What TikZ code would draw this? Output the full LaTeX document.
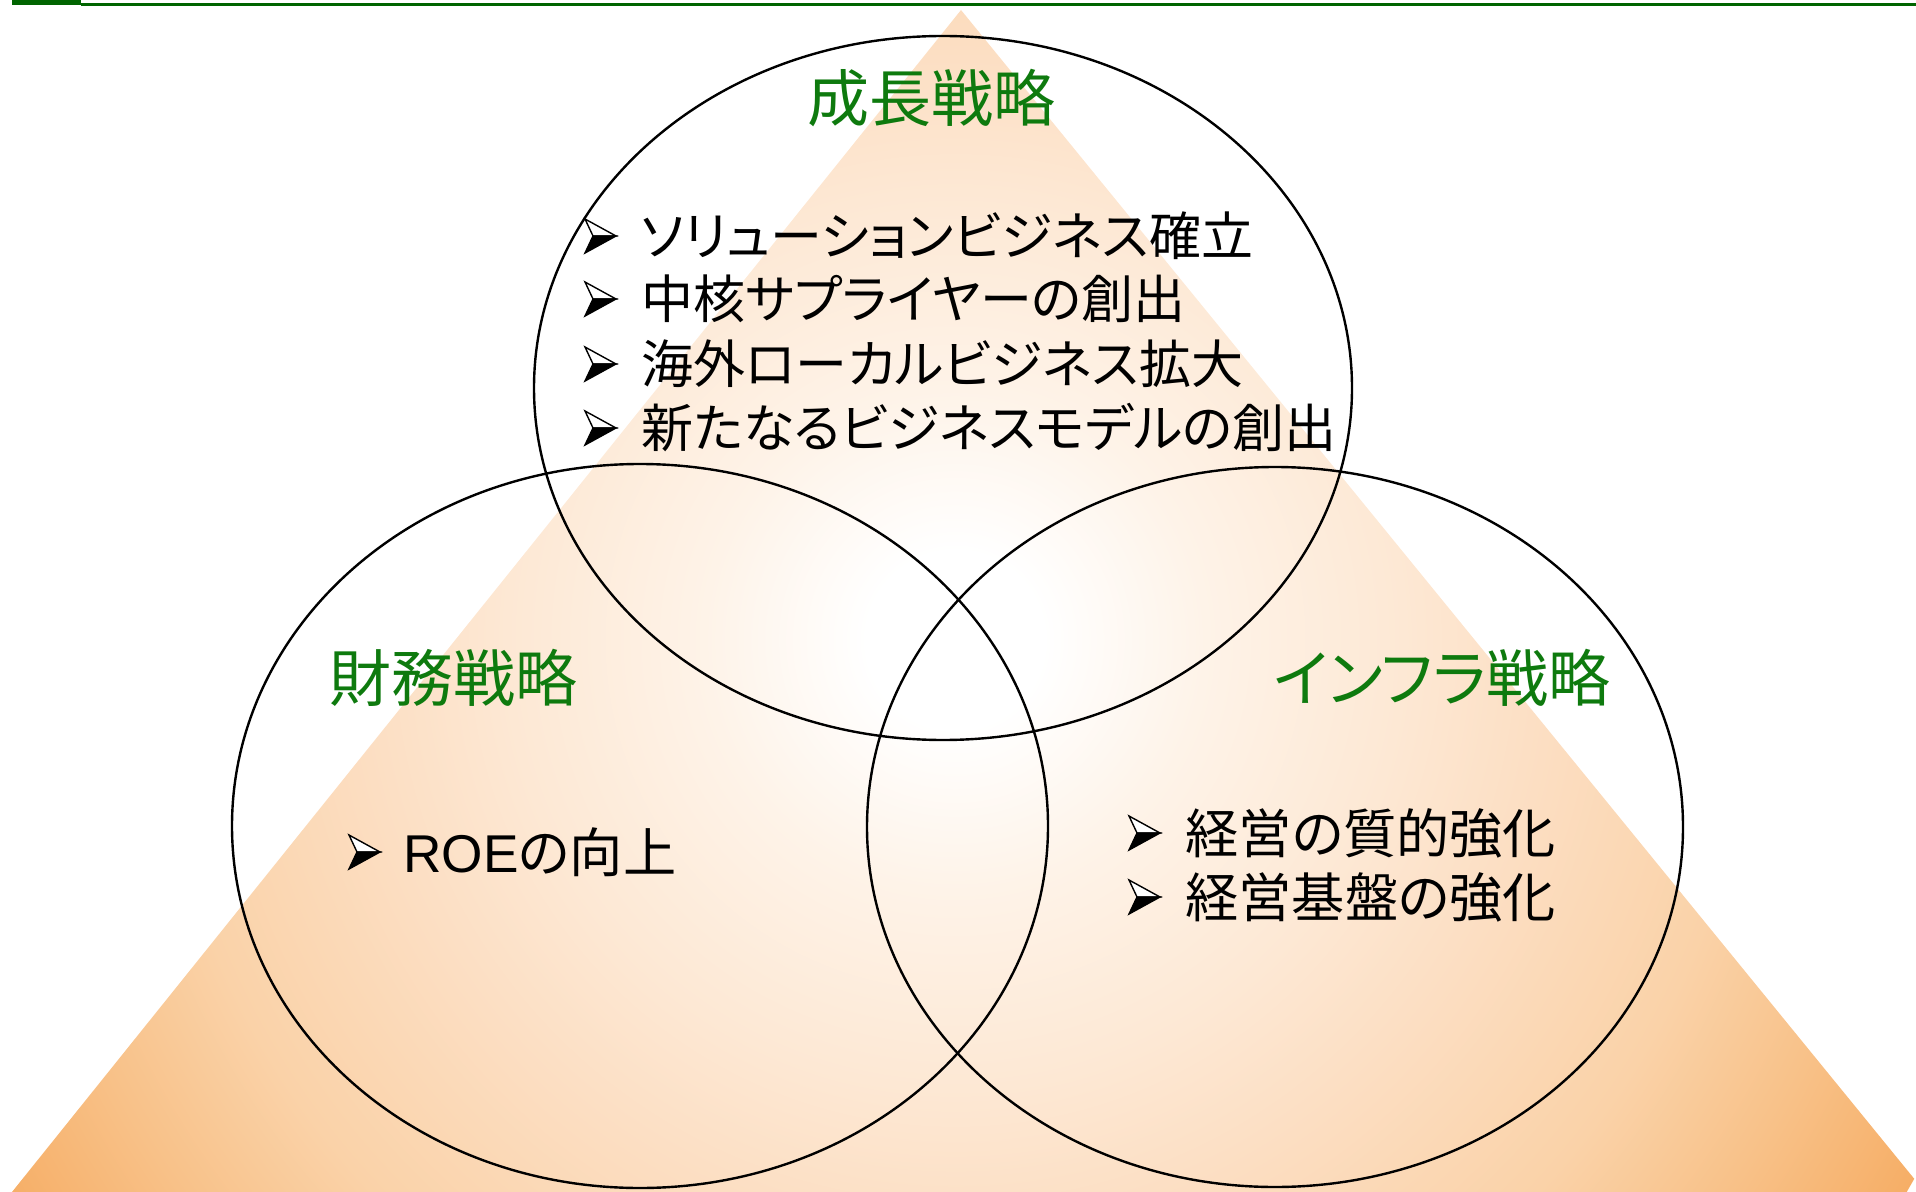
\documentclass[tikz,border=0pt]{standalone}
\usepackage{fontspec}
\newfontfamily\jpfont[RawFeature=+palt]{Noto Sans CJK JP}
\newfontfamily\latinfont{Liberation Sans}
\definecolor{barGreen}{HTML}{006400}
\definecolor{titleGreen}{HTML}{0E7A0E}
\definecolor{pA}{HTML}{FEF3E8}
\definecolor{pB}{HTML}{FDE8D4}
\definecolor{pC}{HTML}{FCDEC2}
\definecolor{pD}{HTML}{FAD2A8}
\definecolor{pE}{HTML}{F8C188}
\definecolor{pF}{HTML}{F6AE66}
\pgfdeclareradialshading{peach}{\pgfpoint{0bp}{0bp}}{color(0bp)=(white); color(2bp)=(white); color(5.7bp)=(pA); color(10.2bp)=(pB); color(13.6bp)=(pC); color(18.2bp)=(pD); color(21.6bp)=(pE); color(25bp)=(pF); color(50bp)=(pF)}
\tikzset{
  ring/.style={draw=black, line width=1.2pt},
  titletext/.style={text=titleGreen, font=\jpfont\fontsize{31pt}{36pt}\selectfont, inner sep=0pt},
  toptext/.style={text=black, font=\jpfont\fontsize{26pt}{32pt}\selectfont, inner sep=0pt, anchor=west},
  lowtext/.style={text=black, font=\jpfont\fontsize{26.6pt}{32pt}\selectfont, inner sep=0pt, anchor=west},
  bulletarrow/.pic={
    \filldraw[fill=white, draw=black, line width=0.7pt, line join=miter] (0,-17) -- (31,0) -- (8,0) -- cycle;
    \filldraw[fill=black, draw=black, line width=0.7pt, line join=miter] (8,0) -- (31,0) -- (0,17) -- cycle;
  }
}
\begin{document}
\begin{tikzpicture}[x=0.5pt,y=-0.5pt]
\useasboundingbox (0,0) rectangle (1916,1192);
% pyramid with radial shading
\begin{scope}
  \clip (961,10) -- (1925,1192) -- (12,1192) -- cycle;
  \shade[shading=peach] (955,640) circle (550pt);
\end{scope}
% top bar
\fill[barGreen] (12,0) rectangle (81,5);
\fill[barGreen] (81,3) rectangle (1916,6);
% ellipses
\draw[ring] (943,388) ellipse [x radius=204.5pt, y radius=176pt];
\draw[ring] (640,826) ellipse [x radius=204pt, y radius=181pt];
\draw[ring] (1275,827) ellipse [x radius=204pt, y radius=180pt];
% titles
\node[titletext] (tGrowth) at (931,98) {成長戦略};
\node[titletext] (tFinance) at (453,678) {財務戦略};
\node[titletext] (tInfra) at (1442,678) {インフラ戦略};
% growth list
\pic at (585,236) {bulletarrow};
\node[toptext] (g1) at (641,236) {ソリューションビジネス確立};
\pic at (585,299) {bulletarrow};
\node[toptext] (g2) at (641,299) {中核サプライヤーの創出};
\pic at (585,364) {bulletarrow};
\node[toptext] (g3) at (641,364) {海外ローカルビジネス拡大};
\pic at (585,428) {bulletarrow};
\node[toptext] (g4) at (641,428) {新たなるビジネスモデルの創出};
% finance list
\pic at (349,852) {bulletarrow};
\node[lowtext] (f1) at (403,852) {{\latinfont ROE}の向上};
% infrastructure list
\pic at (1129,833) {bulletarrow};
\node[lowtext] (i1) at (1185,833) {経営の質的強化};
\pic at (1129,897) {bulletarrow};
\node[lowtext] (i2) at (1185,897) {経営基盤の強化};
\end{tikzpicture}
\end{document}
